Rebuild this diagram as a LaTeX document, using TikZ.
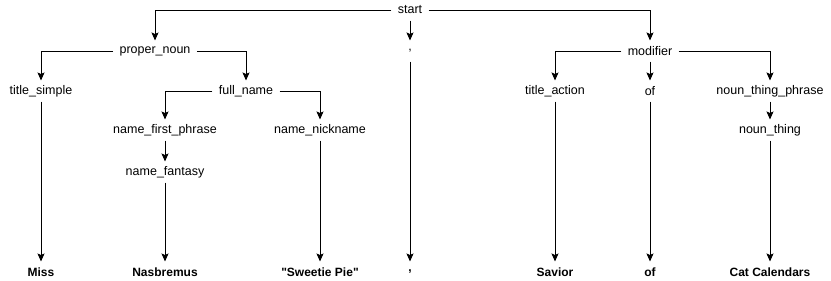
\documentclass[tikz,border=0pt]{standalone}
\usepackage{fontspec}
\setmainfont{Liberation Sans}[Ligatures=TeXOff]
\usetikzlibrary{arrows.meta, positioning}

\tikzset{
    sym/.style={font=\fontsize{12.5}{14}\selectfont, minimum height=20pt, inner xsep=6pt, inner ysep=0pt},
    word/.style={sym, font=\fontsize{12}{14}\selectfont\bfseries},
    elbow/.style={to path={-| (\tikztotarget) \tikztonodes}}
}

\begin{document}
\begin{tikzpicture}[x=1pt, y=-1pt, line width=1pt, >={Stealth[length=8pt,width=7pt,inset=1.5pt]}]
        \useasboundingbox (0,0) rectangle (831,281);

        % grammar symbols
        \node[sym] (start)      at (410,10)  {start};
        \node[sym] (pnoun)      at (155,51)  {proper\_noun};
        \node[sym] (comma)      at (410,51)  {,};
        \node[sym] (modifier)   at (650,51)  {modifier};
        \node[sym] (tsimple)    at (41,91)   {title\_simple};
        \node[sym] (fullname)   at (246,91)  {full\_name};
        \node[sym] (taction)    at (555,91)  {title\_action};
        \node[sym] (of)         at (650,91)  {of};
        \node[sym] (ntphrase)   at (770,91)  {noun\_thing\_phrase};
        \node[sym] (nfphrase)   at (165,130) {name\_first\_phrase};
        \node[sym] (nickname)   at (320,130) {name\_nickname};
        \node[sym] (nthing)     at (770,130) {noun\_thing};
        \node[sym] (fantasy)    at (165,172) {name\_fantasy};

        % terminals
        \node[word] (wmiss)     at (41,272)  {Miss};
        \node[word] (wnasb)     at (165,272) {Nasbremus};
        \node[word] (wsweet)    at (320,272) {"Sweetie Pie"};
        \node[word] (wcomma)    at (410,272) {,};
        \node[word] (wsavior)   at (555,272) {Savior};
        \node[word] (wof)       at (650,272) {of};
        \node[word] (wcat)      at (770,272) {Cat Calendars};

        \path[->]   (start) edge[elbow] (pnoun)
        (start) edge (comma)
        (start) edge[elbow] (modifier)
        (pnoun) edge[elbow] (tsimple)
        (pnoun) edge[elbow] (fullname)
        (fullname) edge[elbow] (nfphrase)
        (fullname) edge[elbow] (nickname)
        (nfphrase) edge (fantasy)
        (modifier) edge[elbow] (taction)
        (modifier) edge (of)
        (modifier) edge[elbow] (ntphrase)
        (ntphrase) edge (nthing)
        (tsimple) edge (wmiss)
        (fantasy) edge (wnasb)
        (nickname) edge (wsweet)
        (comma) edge (wcomma)
        (taction) edge (wsavior)
        (of) edge (wof)
        (nthing) edge (wcat)
        ;
    \end{tikzpicture}
\end{document}
